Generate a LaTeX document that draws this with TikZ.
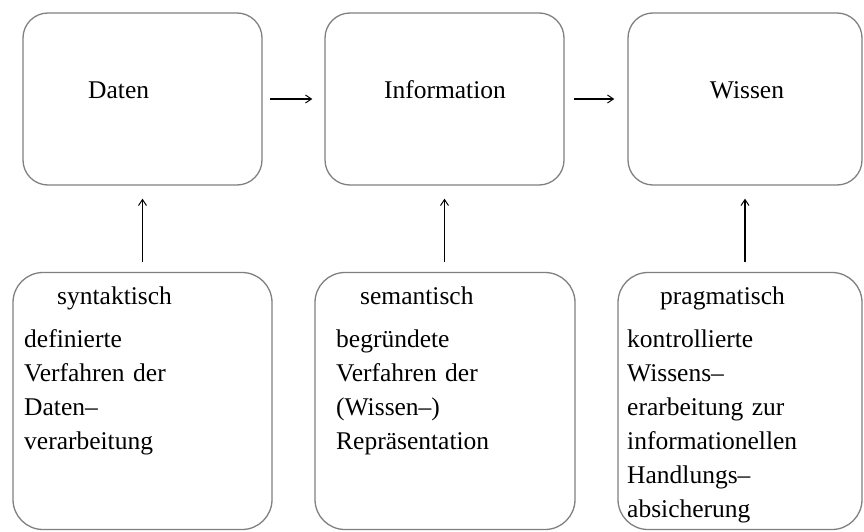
\documentclass[tikz,border=0pt]{standalone}
\usepackage{fontspec}
\setmainfont{Liberation Serif}
\usetikzlibrary{arrows.meta}
\begin{document}
\begin{tikzpicture}[x=1pt,y=-1pt,
  box/.style={draw=black!50, line width=1.3pt, inner sep=0pt},
  topbox/.style={box, rounded corners=25pt, minimum height=172pt},
  lowbox/.style={box, rounded corners=30pt, minimum height=257pt},
  conn/.style={line width=1.6pt, -{Straight Barb[length=6pt,width=8pt,line width=1pt]}},
  txt/.style={font=\fontsize{25.5}{34}\selectfont, inner sep=0pt},
  desc/.style={txt, text width=230pt, align=left, anchor=base west}]
\useasboundingbox (0,0) rectangle (864,532);

% upper row: the three stages
\node[topbox, minimum width=239pt] (daten) at (142.5,99) {};
\node[topbox, minimum width=239pt] (info)  at (444.5,99) {};
\node[topbox, minimum width=234pt] (wis)   at (745,99) {};
\node[txt, anchor=base west] (tdaten) at (88,99) {Daten};
\node[txt, anchor=base] (tinfo) at (445,99) {Information};
\node[txt, anchor=base] (twis) at (747,99) {Wissen};

% lower row: the kinds of procedures
\node[lowbox, minimum width=259pt] (syn)  at (142.5,401) {};
\node[lowbox, minimum width=260pt] (sem)  at (445,401) {};
\node[lowbox, minimum width=244pt] (prag) at (740,401) {};

\node[desc] (tsyn) at (24,304.5) {\hspace*{33pt}syntaktisch\\[9pt]
  definierte\\ Verfahren der\\ Daten--\\ verarbeitung};
\node[desc] (tsem) at (336,304.5) {\hspace*{24pt}semantisch\\[9pt]
  begründete\\ Verfahren der\\ (Wissen--)\\ Repräsentation};
\node[desc] (tprag) at (627,304.5) {\hspace*{33pt}pragmatisch\\[9pt]
  kontrollierte\\ Wissens--\\ erarbeitung zur\\ informationellen\\
  Handlungs--\\ absicherung};

% connectors
\draw[conn, shorten <=7pt, shorten >=12pt] (daten.east) -- (info.west);
\draw[conn, shorten <=9pt, shorten >=13pt] (info.east) -- (wis.west);
\draw[conn, shorten <=10pt, shorten >=13pt] (syn.north) -- (daten.south);
\draw[conn, shorten <=10pt, shorten >=13pt] (sem.north -| info.south) -- (info.south);
\draw[conn, shorten <=10pt, shorten >=13pt] (prag.north -| wis.south) -- (wis.south);
\end{tikzpicture}
\end{document}
